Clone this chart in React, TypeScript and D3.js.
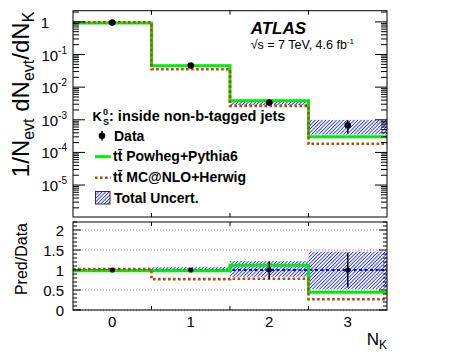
import React from 'react';
import * as d3 from 'd3';

// N_K bins
const nK = [0, 1, 2, 3];
const dataVal = [0.95, 0.046, 0.0034, 0.00068];
const dataErrUp = [0.005, 0.03, 0.21, 0.43];
const dataErrDown = [0.005, 0.03, 0.22, 0.44];
const powheg = [0.93, 0.045, 0.0038, 0.0003];
const mcnlo = [0.97, 0.0355, 0.00266, 0.000184];
const uncUp = [0.01, 0.07, 0.22, 0.46];
const uncDown = [0.01, 0.04, 0.17, 0.48];

const mainTickExps = [0, -1, -2, -3, -4, -5];
const ratioMajor = [0, 0.5, 1, 1.5, 2];

const W = 456, H = 354;
const left = 73, right = 387;
const mainTop = 10.7, mainBot = 217;
const ratTop = 222, ratBot = 310;

const GREEN = '#00ee00';
const BROWN = '#b5470b';
const FONT = '"Liberation Sans", Arial, sans-serif';

const App = () => {
  const x = d3.scaleLinear().domain([-0.5, 3.5]).range([left, right]);
  const yMain = d3.scaleLog().domain([1.05e-6, 2.2]).range([mainBot, mainTop]);
  const yRat = d3.scaleLinear().domain([0, 2.2]).range([ratBot, ratTop]);

  const stepPts = (vals: number[]) => {
    const pts: [number, number][] = [];
    vals.forEach((v, i) => {
      pts.push([nK[i] - 0.5, v]);
      pts.push([nK[i] + 0.5, v]);
    });
    return pts;
  };
  const lineMain = d3.line<[number, number]>().x(d => x(d[0])).y(d => yMain(d[1]));
  const lineRat = d3.line<[number, number]>().x(d => x(d[0])).y(d => yRat(d[1]));

  const powRatio = powheg.map((v, i) => v / dataVal[i]);
  const mcRatio = mcnlo.map((v, i) => v / dataVal[i]);

  // log minor ticks
  const logTicks: { v: number; major: boolean }[] = [];
  for (let e = -7; e <= 1; e++) {
    for (let k = 1; k <= 9; k++) {
      const v = k * Math.pow(10, e);
      if (v >= 1.05e-6 && v <= 2.2) logTicks.push({ v, major: k === 1 });
    }
  }
  const ratTicks: { v: number; major: boolean }[] = [];
  for (let i = 0; i <= 22; i++) {
    ratTicks.push({ v: i / 10, major: i % 5 === 0 });
  }
  const edges = [0.5, 1.5, 2.5];

  return (
    <svg width={W} height={H} style={{ position: 'absolute', left: 0, top: 0, background: 'white' }} fontFamily={FONT}>
      <defs>
        <pattern id="hatch" width="2.5" height="2.5" patternUnits="userSpaceOnUse" patternTransform="rotate(45)">
          <rect width="2.5" height="2.5" fill="#ffffff" />
          <line x1="0" y1="0" x2="0" y2="2.5" stroke="#1a2cff" strokeWidth="1.7" />
        </pattern>
        <clipPath id="clipMain"><rect x={left} y={mainTop} width={right - left} height={mainBot - mainTop} /></clipPath>
        <clipPath id="clipRat"><rect x={left} y={ratTop} width={right - left} height={ratBot - ratTop} /></clipPath>
      </defs>

      {/* main panel */}
      <g clipPath="url(#clipMain)">
        {nK.map((k, i) => (
          <rect key={'bm' + i} x={x(k - 0.5)} width={x(k + 0.5) - x(k - 0.5)}
            y={yMain(dataVal[i] * (1 + uncUp[i]))}
            height={yMain(dataVal[i] * (1 - uncDown[i])) - yMain(dataVal[i] * (1 + uncUp[i]))}
            fill="url(#hatch)" />
        ))}
        <path d={lineMain(stepPts(powheg)) || ''} fill="none" stroke={GREEN} strokeWidth={3} />
        <path d={lineMain(stepPts(mcnlo)) || ''} fill="none" stroke={BROWN} strokeWidth={2.6} strokeDasharray="2.6 2.4" />
        {nK.map((k, i) => (
          <g key={'dm' + i}>
            <line x1={x(k)} x2={x(k)} y1={yMain(dataVal[i] * (1 + dataErrUp[i]))} y2={yMain(dataVal[i] * (1 - dataErrDown[i]))} stroke="#000" strokeWidth={1.5} />
            <circle cx={x(k)} cy={yMain(dataVal[i])} r={3.3} fill="#000" />
          </g>
        ))}
      </g>
      {logTicks.map((t, i) => {
        const yy = yMain(t.v);
        const len = t.major ? 12 : 6;
        return (
          <g key={'lt' + i} stroke="#000" strokeWidth={1}>
            <line x1={left} x2={left + len} y1={yy} y2={yy} />
            <line x1={right} x2={right - len} y1={yy} y2={yy} />
          </g>
        );
      })}
      {edges.map(e => (
        <g key={'em' + e} stroke="#000" strokeWidth={1}>
          <line x1={x(e)} x2={x(e)} y1={mainTop} y2={mainTop + 4} />
          <line x1={x(e)} x2={x(e)} y1={mainBot} y2={mainBot - 4} />
          <line x1={x(e)} x2={x(e)} y1={ratTop} y2={ratTop + 4} />
          <line x1={x(e)} x2={x(e)} y1={ratBot} y2={ratBot - 4} />
        </g>
      ))}
      <rect x={left} y={mainTop} width={right - left} height={mainBot - mainTop} fill="none" stroke="#000" strokeWidth={1} />
      {mainTickExps.map(e => (
        e === 0 ? (
          <text key={'ml' + e} x={49} y={yMain(1) + 6} textAnchor="end" fontSize={15}>1</text>
        ) : (
          <text key={'ml' + e} x={67} y={yMain(Math.pow(10, e)) + 6} textAnchor="end" fontSize={15}>
            10<tspan dy={-7} fontSize={10}>{e}</tspan>
          </text>
        )
      ))}
      <text transform={`translate(29, ${mainTop + 1}) rotate(-90)`} textAnchor="end" fontSize={24}>
        1/N<tspan dy={5} fontSize={16}>evt</tspan><tspan dy={-5}> dN</tspan><tspan dy={5} fontSize={16}>evt</tspan><tspan dy={-5}>/dN</tspan><tspan dy={5} fontSize={16}>K</tspan>
      </text>

      {/* labels */}
      <text x={250.7} y={34.3} fontSize={17} fontWeight="bold" fontStyle="italic">ATLAS</text>
      <text x={250.7} y={49.3} fontSize={12.5}>√s = 7 TeV, 4.6 fb<tspan dy={-5} fontSize={8}>-1</tspan></text>

      {/* legend */}
      <g fontWeight="bold">
        <text x={92.5} y={121} fontSize={13}>K</text>
        <text x={103} y={114.5} fontSize={9}>0</text>
        <text x={103} y={125} fontSize={9}>S</text>
        <text x={109} y={121} fontSize={14.5}>: inside non-b-tagged jets</text>

        <line x1={102} x2={102} y1={131} y2={140.5} stroke="#000" strokeWidth={1.5} />
        <circle cx={102} cy={135.7} r={3.3} fill="#000" />
        <text x={114} y={140.5} fontSize={14}>Data</text>

        <line x1={95} x2={110.7} y1={156.7} y2={156.7} stroke={GREEN} strokeWidth={3} />
        <text x={113} y={161.3} fontSize={14}>tt̄ Powheg+Pythia6</text>

        <line x1={95} x2={110.7} y1={177.7} y2={177.7} stroke={BROWN} strokeWidth={2.6} strokeDasharray="2.6 2.4" />
        <text x={113} y={182.2} fontSize={14}>tt̄ MC@NLO+Herwig</text>

        <rect x={95.5} y={191.5} width={14.5} height={12.5} fill="url(#hatch)" stroke="#333" strokeWidth={1} />
        <text x={114} y={202.5} fontSize={14}>Total Uncert.</text>
      </g>

      {/* ratio panel */}
      {ratioMajor.map(v => (
        <line key={'gr' + v} x1={left} x2={right} y1={yRat(v)} y2={yRat(v)} stroke="#888" strokeWidth={1} strokeDasharray="1 2" />
      ))}
      <g clipPath="url(#clipRat)">
        {nK.map((k, i) => (
          <rect key={'br' + i} x={x(k - 0.5)} width={x(k + 0.5) - x(k - 0.5)}
            y={yRat(1 + uncUp[i])} height={yRat(1 - uncDown[i]) - yRat(1 + uncUp[i])}
            fill="url(#hatch)" />
        ))}
        <line x1={left} x2={right} y1={yRat(1)} y2={yRat(1)} stroke="#0000ff" strokeWidth={2} strokeDasharray="3 2.5" />
        <path d={lineRat(stepPts(powRatio)) || ''} fill="none" stroke={GREEN} strokeWidth={3} />
        <path d={lineRat(stepPts(mcRatio)) || ''} fill="none" stroke={BROWN} strokeWidth={2.6} strokeDasharray="2.6 2.4" />
        {nK.map((k, i) => (
          <g key={'dr' + i}>
            <line x1={x(k)} x2={x(k)} y1={yRat(1 + dataErrUp[i])} y2={yRat(1 - dataErrDown[i])} stroke="#000" strokeWidth={1.5} />
            <circle cx={x(k)} cy={yRat(1)} r={2.6} fill="#000" />
          </g>
        ))}
      </g>
      {ratTicks.map((t, i) => {
        const yy = yRat(t.v);
        const len = t.major ? 8 : 4;
        return (
          <g key={'rt' + i} stroke="#000" strokeWidth={1}>
            <line x1={left} x2={left + len} y1={yy} y2={yy} />
            <line x1={right} x2={right - len} y1={yy} y2={yy} />
          </g>
        );
      })}
      <rect x={left} y={ratTop} width={right - left} height={ratBot - ratTop} fill="none" stroke="#000" strokeWidth={1} />
      {ratioMajor.map(v => (
        <text key={'rl' + v} x={64} y={yRat(v) + 5.5} textAnchor="end" fontSize={15}>{String(v)}</text>
      ))}
      <text transform={`translate(27, ${ratTop + 1}) rotate(-90)`} textAnchor="end" fontSize={16}>Pred/Data</text>

      {nK.map(k => (
        <text key={'xl' + k} x={x(k)} y={326.7} textAnchor="middle" fontSize={15}>{k}</text>
      ))}
      <text x={387} y={345} textAnchor="end" fontSize={17}>N<tspan dy={4} fontSize={12}>K</tspan></text>
    </svg>
  );
};

export default App;
